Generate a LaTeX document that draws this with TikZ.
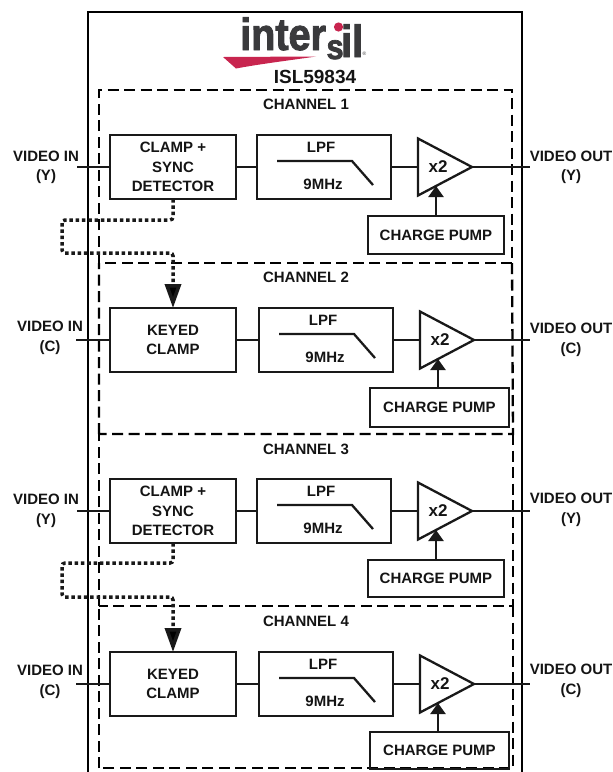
\documentclass[tikz,border=0pt]{standalone}
\usepackage{fontspec}
\setmainfont{Liberation Sans}
\newfontfamily\logofont[FakeBold=2,FakeStretch=0.88]{Liberation Sans}
\usetikzlibrary{arrows.meta,shapes.geometric}
\definecolor{logogray}{HTML}{3A3A3C}
\definecolor{logored}{HTML}{C8254F}
\tikzset{
  x=1pt,y=-1pt,
  lbl/.style={font=\fontsize{15}{19.5}\selectfont\bfseries,align=center,inner sep=0,outer sep=0,text=black!92},
  blk/.style={draw=black!90,line width=2.3pt,inner sep=0,outer sep=0,lbl},
  wire/.style={draw=black!90,line width=2.3pt},
  chan/.style={draw=black,line width=2.3pt,dash pattern=on 11pt off 5.5pt},
  sync/.style={draw=black!90,line width=3.5pt,dash pattern=on 3.5pt off 2.8pt,rounded corners=3pt,-{Triangle[length=24pt,width=16pt,fill=black]}},
  amptri/.style={draw=black!90,line width=2.3pt,isosceles triangle,isosceles triangle stretches,shape border rotate=0,minimum width=57,minimum height=54,inner sep=0,outer sep=0,anchor=apex},
  pumparrow/.style={wire,-{Triangle[length=11pt,width=15pt]}}
}
% id, dx, dy, first block text, pump right edge, pump top, pump bottom
\newcommand{\chanblocks}[7]{%
  \node[blk,minimum width=126,minimum height=64] (in#1) at (173,{167+#3}) {#4};
  \node[blk,minimum width=134,minimum height=64] (lpf#1) at ({324+#2},{167+#3}) {};
  \node[lbl] (lpft#1) at ({321+#2},{147+#3}) {LPF};
  \node[lbl] (mhz#1) at ({323+#2},{184+#3}) {9MHz};
  \draw[wire] ({277+#2},{161+#3}) -- ({352+#2},{161+#3}) -- ({373+#2},{185+#3});
  \node[amptri] (amp#1) at ({472+#2},{167+#3}) {};
  \node[lbl,font=\fontsize{17}{18}\selectfont\bfseries] (gain#1) at ({438+#2},{167+#3}) {x2};
  \node[blk,minimum width={#5-368-#2},minimum height={#7-#6}] (cp#1) at ({(#5+368+#2)/2},{(#6+#7)/2}) {CHARGE PUMP};
  \coordinate (vi#1) at ({77-#2/2},{167+#3});
  \coordinate (vo#1) at (530,{167+#3});
  \coordinate (tip#1) at ({436+#2},{186+#3});
  \draw[wire,line width=1.8pt] (vi#1) -- (in#1.west);
  \draw[wire] (in#1.east) -- (lpf#1.west);
  \draw[wire] (lpf#1.east) -- (lpf#1.east -| amp#1.lower side);
  \draw[wire] (amp#1.apex) -- (vo#1);
  \draw[pumparrow] (cp#1.north -| tip#1) -- (tip#1);
}
\begin{document}
\begin{tikzpicture}
\useasboundingbox (0,0) rectangle (613,772);
% package outline
\coordinate (pkgbl) at (88,772);
\coordinate (pkgtl) at (88,12);
\coordinate (pkgtr) at (522,12);
\coordinate (pkgbr) at (522,772);
\draw[line width=2.2pt,draw=black] (pkgbl) -- (pkgtl) -- (pkgtr) -- (pkgbr);
% logo
\fill[logored] (223,57) -- (316,56.5) .. controls (285,61) and (260,64) .. (236,68.5) -- cycle;
\node[anchor=base west,inner sep=0,text=logogray,font=\fontsize{45}{45}\logofont\bfseries] (logo) at (240,50) {inter\kern0.5pt\raisebox{-9pt}{\fontsize{35}{35}\selectfont s}\kern-2.5pt\raisebox{-7pt}{il}};
\fill[logored] (338.5,27) circle (4.6);
\node[inner sep=0,text=logogray,font=\fontsize{5}{5}\selectfont] (logor) at (364.5,54) {®};
\node[lbl,font=\fontsize{19}{19}\selectfont\bfseries] (part) at (315,77) {ISL59834};
% channel frames
\draw[chan] (99,263) -- (99,90) -- (512,90) -- (512,263) -- cycle;
\draw[chan] (99,434) -- (99,263) (512,263) -- (513,434) -- (99,434);
\draw[chan] (99,606) -- (99,434) (513,434) -- (513,606) -- (99,606);
\draw[chan] (99,768) -- (99,606) (513,606) -- (513,768) -- (99,768);
\node[lbl] (ch1) at (306,104) {CHANNEL 1};
\node[lbl] (ch2) at (306,277) {CHANNEL 2};
\node[lbl] (ch3) at (306,449) {CHANNEL 3};
\node[lbl] (ch4) at (306,621) {CHANNEL 4};
% channels
\chanblocks{a}{0}{0}{CLAMP +\\SYNC\\DETECTOR}{504}{216}{254}
\chanblocks{b}{2}{173}{KEYED\\CLAMP}{509}{388}{427}
\chanblocks{c}{0}{344}{CLAMP +\\SYNC\\DETECTOR}{504}{560}{597}
\chanblocks{d}{2}{517}{KEYED\\CLAMP}{509}{732}{769}
% side labels
\node[lbl] (vina) at (46,167.5) {VIDEO IN\\(Y)};
\node[lbl] (vinb) at (50,338) {VIDEO IN\\(C)};
\node[lbl] (vinc) at (46,511) {VIDEO IN\\(Y)};
\node[lbl] (vind) at (50,682) {VIDEO IN\\(C)};
\node[lbl] (vouta) at (571,167.5) {VIDEO OUT\\(Y)};
\node[lbl] (voutb) at (571,340) {VIDEO OUT\\(C)};
\node[lbl] (voutc) at (571,510) {VIDEO OUT\\(Y)};
\node[lbl] (voutd) at (571,681) {VIDEO OUT\\(C)};
% sync links
\coordinate (s1a) at (62,220);
\coordinate (s1b) at (62,253);
\coordinate (s2a) at (62,563);
\coordinate (s2b) at (62,597);
\draw[sync] (ina.south) -- (ina.south |- s1a) -- (s1a) -- (s1b) -- (inb.north |- s1b) -- (inb.north);
\draw[sync] (inc.south) -- (inc.south |- s2a) -- (s2a) -- (s2b) -- (ind.north |- s2b) -- (ind.north);
\end{tikzpicture}
\end{document}
